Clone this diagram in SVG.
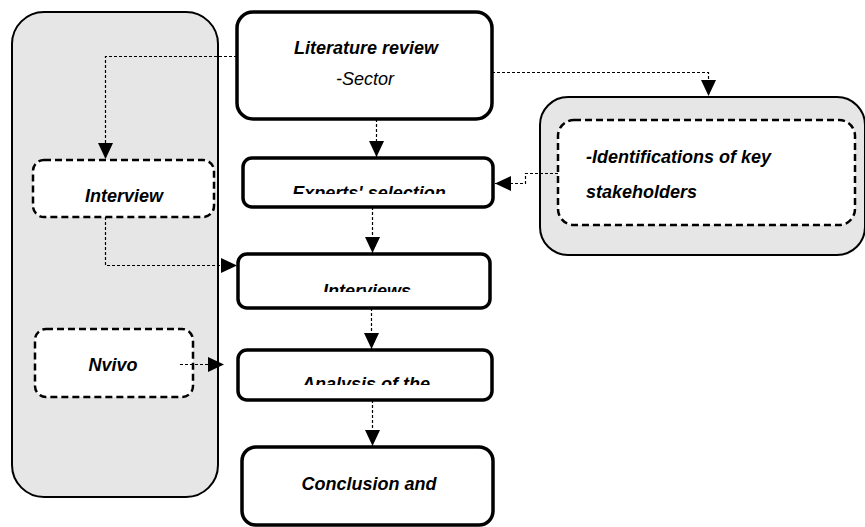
<svg xmlns="http://www.w3.org/2000/svg" width="865" height="527" viewBox="0 0 865 527">
<style>
.grey{fill:#e6e6e6;stroke:#000;stroke-width:2}
.main{fill:#fff;stroke:#000;stroke-width:3.5}
.dash{fill:#fff;stroke:#000;stroke-width:2.5;stroke-dasharray:7 4}
.con{fill:none;stroke:#000;stroke-width:1.2;stroke-dasharray:3 2}
.t{font-family:"Liberation Sans",Arial,sans-serif;font-size:18px;font-style:italic;font-weight:bold;fill:#000}
.n{font-weight:normal}
</style>
<defs>
<marker id="arr" markerWidth="17" markerHeight="16" refX="16" refY="8" orient="auto" markerUnits="userSpaceOnUse"><path d="M0,0.5 L16,8 L0,15.5 Z" fill="#000"/></marker>
<clipPath id="c1"><rect x="240" y="14" width="250" height="90"/></clipPath>
<clipPath id="c2"><rect x="245" y="160" width="246" height="34"/></clipPath>
<clipPath id="c3"><rect x="240" y="256" width="248" height="36"/></clipPath>
<clipPath id="c4"><rect x="240" y="352" width="250" height="33"/></clipPath>
<clipPath id="c5"><rect x="244" y="449" width="247" height="76"/></clipPath>
</defs>
<g id="left-panel"><rect class="grey" x="12" y="12" width="206" height="485" rx="32"/></g>
<g id="right-panel"><rect class="grey" x="540" y="97" width="325" height="158" rx="28"/></g>
<g id="interview"><rect class="dash" x="33" y="160" width="181" height="57" rx="11"/><text class="t" x="124" y="202" text-anchor="middle" font-size="20">Interview</text></g>
<g id="nvivo"><rect class="dash" x="35" y="329" width="158" height="68" rx="11"/><text class="t" x="113" y="371" text-anchor="middle" font-size="21">Nvivo</text></g>
<g id="stakeholders"><rect class="dash" x="558" y="120" width="297" height="105" rx="16"/><text class="t" x="586" y="163" font-size="21">-Identifications of key</text><text class="t" x="586" y="198" font-size="21">stakeholders</text></g>
<g id="literature"><rect class="main" x="237" y="12" width="255" height="107" rx="16"/><g clip-path="url(#c1)"><text class="t" x="366" y="54" text-anchor="middle" font-size="18.5">Literature review</text><text class="t n" x="365" y="85" text-anchor="middle" font-size="20">-Sector</text></g></g>
<g id="experts"><rect class="main" x="243" y="158" width="250" height="49" rx="9"/><g clip-path="url(#c2)"><text class="t" x="369" y="199" text-anchor="middle">Experts' selection</text></g></g>
<g id="interviews"><rect class="main" x="238" y="254" width="252" height="54" rx="9"/><g clip-path="url(#c3)"><text class="t" x="367" y="297" text-anchor="middle" font-size="20">Interviews</text></g></g>
<g id="analysis"><rect class="main" x="238" y="350" width="254" height="50" rx="9"/><g clip-path="url(#c4)"><text class="t" x="366" y="390" text-anchor="middle">Analysis of the</text></g></g>
<g id="conclusion"><rect class="main" x="242" y="447" width="251" height="78" rx="14"/><g clip-path="url(#c5)"><text class="t" x="369" y="490" text-anchor="middle" font-size="19">Conclusion and</text></g></g>
<g id="connectors">
<path class="con" d="M237,56.5 H105.5 V159" marker-end="url(#arr)"/>
<path class="con" d="M492,72.5 H708.5 V96" marker-end="url(#arr)"/>
<path class="con" d="M376.5,119 V157" marker-end="url(#arr)"/>
<path class="con" d="M558,173.5 H525.5 V183.5 H495" marker-end="url(#arr)"/>
<path class="con" d="M372.5,207 V253" marker-end="url(#arr)"/>
<path class="con" d="M105.5,217 V265.5 H237" marker-end="url(#arr)"/>
<path class="con" d="M371.5,308 V349" marker-end="url(#arr)"/>
<path class="con" d="M180,364.5 H224" marker-end="url(#arr)"/>
<path class="con" d="M372.5,400 V446" marker-end="url(#arr)"/>
</g>
</svg>
